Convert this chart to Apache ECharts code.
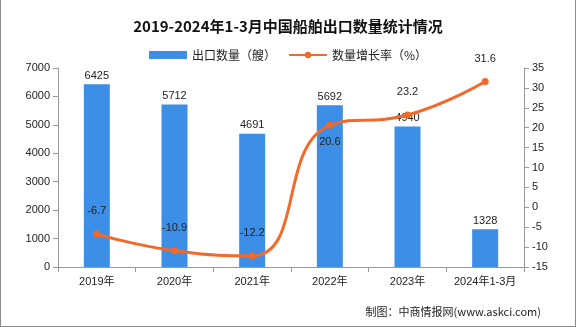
<!DOCTYPE html>
<html><head><meta charset="utf-8">
<script src="https://cdn.jsdelivr.net/npm/echarts@6/dist/echarts.min.js"></script>
<style>html,body{margin:0;padding:0;background:#fff}#c{width:576px;height:327px;box-sizing:border-box;border:1px solid #8a8a8a;border-top:none}</style>
</head><body><div id="c"></div>
<script>
const categories = ['2019年','2020年','2021年','2022年','2023年','2024年1-3月'];
const exportCounts = [6425, 5712, 4691, 5692, 4940, 1328];
const growthRates = [-6.7, -10.9, -12.2, 20.6, 23.2, 31.6];
const leftTicks = {min: 0, max: 7000, interval: 1000};
const rightTicks = {min: -15, max: 35, interval: 5};

const chart = echarts.init(document.getElementById('c'), null, {renderer: 'canvas'});
const font = '"Liberation Sans", "Noto Sans CJK SC", sans-serif';
chart.setOption({
  animation: false,
  title: {text: '2019-2024年1-3月中国船舶出口数量统计情况', left: 'center', top: 14,
    textStyle: {fontSize: 15, fontWeight: 'bold', color: '#111', fontFamily: '"Noto Sans CJK SC", serif'}},
  legend: {top: 44, left: 'center', itemGap: 12, itemWidth: 38, itemHeight: 8,
    textStyle: {fontSize: 12, color: '#222', fontFamily: '"Noto Sans CJK SC", sans-serif'},
    data: [{name: '出口数量（艘）', icon: 'rect'}, {name: '数量增长率（%）'}]},
  grid: {left: 57, right: 51, top: 68, bottom: 59},
  xAxis: {type: 'category', data: categories,
    axisLine: {lineStyle: {color: '#999'}},
    axisTick: {show: true, interval: 0, alignWithLabel: false, lineStyle: {color: '#999'}},
    axisLabel: {interval: 0, fontSize: 11, color: '#222', margin: 9, fontFamily: font}},
  yAxis: [
    {type: 'value', min: leftTicks.min, max: leftTicks.max, interval: leftTicks.interval,
      axisLine: {show: true, lineStyle: {color: '#999'}}, axisTick: {show: true, lineStyle: {color: '#999'}},
      splitLine: {show: false}, axisLabel: {fontSize: 11, color: '#222', fontFamily: font, formatter: v => String(v)}},
    {type: 'value', min: rightTicks.min, max: rightTicks.max, interval: rightTicks.interval,
      axisLine: {show: true, lineStyle: {color: '#999'}}, axisTick: {show: true, lineStyle: {color: '#999'}},
      splitLine: {show: false}, axisLabel: {fontSize: 11, color: '#222', fontFamily: font}}
  ],
  series: [
    {name: '出口数量（艘）', type: 'bar', data: exportCounts, barWidth: 26,
      itemStyle: {color: '#3d8ee6'},
      label: {show: true, position: 'top', fontSize: 11, color: '#222', distance: 3, fontFamily: font}},
    {name: '数量增长率（%）', type: 'line', yAxisIndex: 1, smooth: true,
      data: growthRates.map((v, i) => i === 3 ? {value: v, label: {position: 'bottom', distance: 8}} : v),
      symbol: 'circle', symbolSize: 7,
      lineStyle: {color: '#f26a2a', width: 3}, itemStyle: {color: '#f26a2a'},
      label: {show: true, position: 'top', distance: 14, fontSize: 11, color: '#222', fontFamily: font}}
  ],
  graphic: [{type: 'text', right: 34, top: 306,
    style: {text: '制图：中商情报网(www.askci.com)', fontSize: 11, fill: '#222', fontFamily: '"Noto Sans CJK SC", sans-serif'}}]
});
</script></body></html>
